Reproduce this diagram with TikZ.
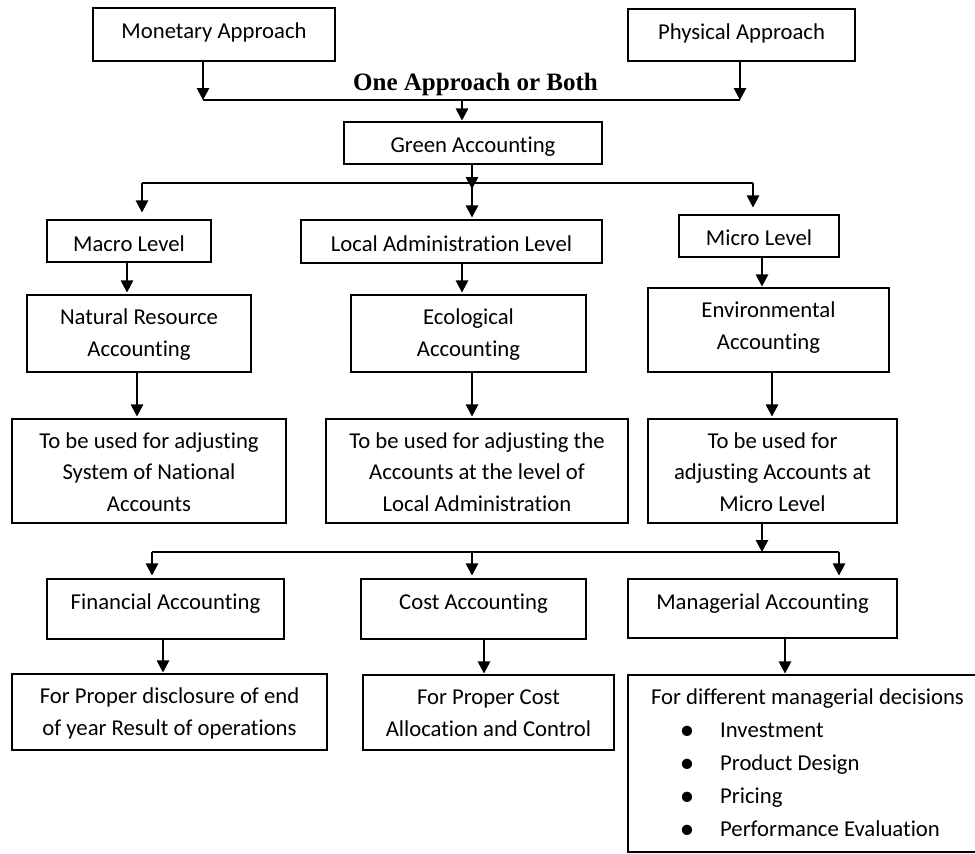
\documentclass[tikz,border=0pt]{standalone}
\usepackage{fontspec}
\setmainfont{Carlito}[Ligatures=CommonOff]
\newfontfamily\titlefont{Liberation Serif}
\usetikzlibrary{arrows.meta}
\begin{document}
\begin{tikzpicture}[x=1pt,y=-1pt,
  box/.style={draw, line width=1.1pt, inner sep=0pt, anchor=center},
  txt/.style={inner sep=0pt, anchor=base, align=center, font=\fontsize{22.7}{32}\selectfont},
  txtb/.style={inner sep=0pt, anchor=base, align=center, font=\fontsize{22.7}{31.5}\selectfont},
  bul/.style={inner sep=0pt, anchor=base, font=\fontsize{29}{32}\selectfont},
  ln/.style={line width=1.2pt},
  arr/.style={line width=1.2pt, -{Triangle[width=12.5pt,length=12pt]}}]
\useasboundingbox[fill=white] (0,0) rectangle (975,854);
% boxes
\node[box, minimum width=242pt, minimum height=53pt] (mon) at (214,34.5) {};
\node[box, minimum width=227pt, minimum height=52pt] (phy) at (741.5,35) {};
\node[box, minimum width=258pt, minimum height=42pt] (green) at (473,143) {};
\node[box, minimum width=164pt, minimum height=42pt] (macro) at (129,241) {};
\node[box, minimum width=301pt, minimum height=43pt] (local) at (451.5,241.5) {};
\node[box, minimum width=160pt, minimum height=42pt] (micro) at (759,236) {};
\node[box, minimum width=224pt, minimum height=77pt] (nra) at (139,333.5) {};
\node[box, minimum width=235pt, minimum height=77pt] (eco) at (468.5,333.5) {};
\node[box, minimum width=241pt, minimum height=84pt] (env) at (768.5,330) {};
\node[box, minimum width=274pt, minimum height=104pt] (tbua) at (149,471) {};
\node[box, minimum width=302pt, minimum height=104pt] (tbub) at (477,471) {};
\node[box, minimum width=249pt, minimum height=104pt] (tbuc) at (772.5,471) {};
\node[box, minimum width=237pt, minimum height=60pt] (fin) at (165.5,609) {};
\node[box, minimum width=225pt, minimum height=60pt] (cost) at (473.5,609) {};
\node[box, minimum width=269pt, minimum height=59pt] (man) at (762.5,608.5) {};
\node[box, minimum width=315pt, minimum height=76pt] (fp) at (169.5,712) {};
\node[box, minimum width=251pt, minimum height=75pt] (fpc) at (488.5,712.5) {};
\node[box, minimum width=350pt, minimum height=177pt] (fdm) at (803,763.5) {};
% texts
\node[txt] (tmon) at (214,38) {Monetary Approach};
\node[txt] (tphy) at (741.5,39) {Physical Approach};
\node[inner sep=0pt, anchor=base, font=\titlefont\bfseries\fontsize{25}{30}\selectfont] (both) at (475.5,90) {One Approach or Both};
\node[txt] (tgreen) at (473,152) {Green Accounting};
\node[txt] (tmacro) at (129,251) {Macro Level};
\node[txt] (tlocal) at (451.5,251) {Local Administration Level};
\node[txt] (tmicro) at (759,245) {Micro Level};
\node[txt] (tnra) at (139,356) {Natural Resource\\Accounting};
\node[txt] (teco) at (468.5,356) {Ecological\\Accounting};
\node[txt] (tenv) at (768.5,349) {Environmental\\Accounting};
\node[txtb] (ttbua) at (149,511) {To be used for adjusting\\System of National\\Accounts};
\node[txtb] (ttbub) at (477,511) {To be used for adjusting the\\Accounts at the level of\\Local Administration};
\node[txtb] (ttbuc) at (772.5,511) {To be used for\\adjusting Accounts at\\Micro Level};
\node[txt] (tfin) at (165.5,609) {Financial Accounting};
\node[txt] (tcost) at (473.5,609) {Cost Accounting};
\node[txt] (tman) at (762.5,609) {Managerial Accounting};
\node[txt] (tfp) at (169.5,735) {For Proper disclosure of end\\of year Result of operations};
\node[txt] (tfpc) at (488.5,736) {For Proper Cost\\Allocation and Control};
\node[txt] (tfdm) at (807.5,704) {For different managerial decisions};
\node[bul] (ba) at (687,739.5) {•};
\node[bul] (bb) at (687,772.5) {•};
\node[bul] (bc) at (687,805.5) {•};
\node[bul] (bd) at (687,838.5) {•};
\node[txt, anchor=base west] (ia) at (720,737) {Investment};
\node[txt, anchor=base west] (ib) at (720,770) {Product Design};
\node[txt, anchor=base west] (ic) at (720,803) {Pricing};
\node[txt, anchor=base west] (id) at (720,836) {Performance Evaluation};
% junction coordinates
\coordinate (ja) at (203,100);
\coordinate (jb) at (740,100);
\coordinate (jc) at (462,100);
\coordinate (jd) at (472,183);
\coordinate (jdd) at (472,189);
\coordinate (je) at (142,183);
\coordinate (jf) at (753,183);
\coordinate (xa) at (127,0);
\coordinate (xb) at (462,0);
\coordinate (xc) at (762,0);
\coordinate (xd) at (137,0);
\coordinate (xe) at (472,0);
\coordinate (xf) at (772,0);
\coordinate (jg) at (762,552);
\coordinate (jh) at (152,552);
\coordinate (ji) at (472,552);
\coordinate (jj) at (839,552);
\coordinate (xg) at (163,0);
\coordinate (xh) at (484,0);
\coordinate (xi) at (785,0);
% connectors
\draw[arr] (mon.south -| ja) -- (ja);
\draw[arr] (phy.south -| jb) -- (jb);
\draw[ln] (ja) -- (jb);
\draw[arr, shorten >=1pt] (jc) -- (green.north -| jc);
\draw[arr] (green.south -| jd) -- (jdd);
\draw[ln] (je) -- (jf);
\draw[arr, shorten >=7pt] (je) -- (macro.north -| je);
\draw[arr, shorten >=2pt] (jd) -- (local.north -| jd);
\draw[arr, shorten >=7pt] (jf) -- (micro.north -| jf);
\draw[arr, shorten >=2pt] (macro.south -| xa) -- (nra.north -| xa);
\draw[arr, shorten >=2pt] (local.south -| xb) -- (eco.north -| xb);
\draw[arr, shorten >=1pt] (micro.south -| xc) -- (env.north -| xc);
\draw[arr, shorten >=2pt] (nra.south -| xd) -- (tbua.north -| xd);
\draw[arr, shorten >=2pt] (eco.south -| xe) -- (tbub.north -| xe);
\draw[arr, shorten >=2pt] (env.south -| xf) -- (tbuc.north -| xf);
\draw[arr] (tbuc.south -| jg) -- (jg);
\draw[ln] (jh) -- (jj);
\draw[arr, shorten >=3pt] (jh) -- (fin.north -| jh);
\draw[arr, shorten >=3pt] (ji) -- (cost.north -| ji);
\draw[arr, shorten >=3pt] (jj) -- (man.north -| jj);
\draw[arr, shorten >=1pt] (fin.south -| xg) -- (fp.north -| xg);
\draw[arr, shorten >=1pt] (cost.south -| xh) -- (fpc.north -| xh);
\draw[arr, shorten >=1pt] (man.south -| xi) -- (fdm.north -| xi);
\end{tikzpicture}
\end{document}
